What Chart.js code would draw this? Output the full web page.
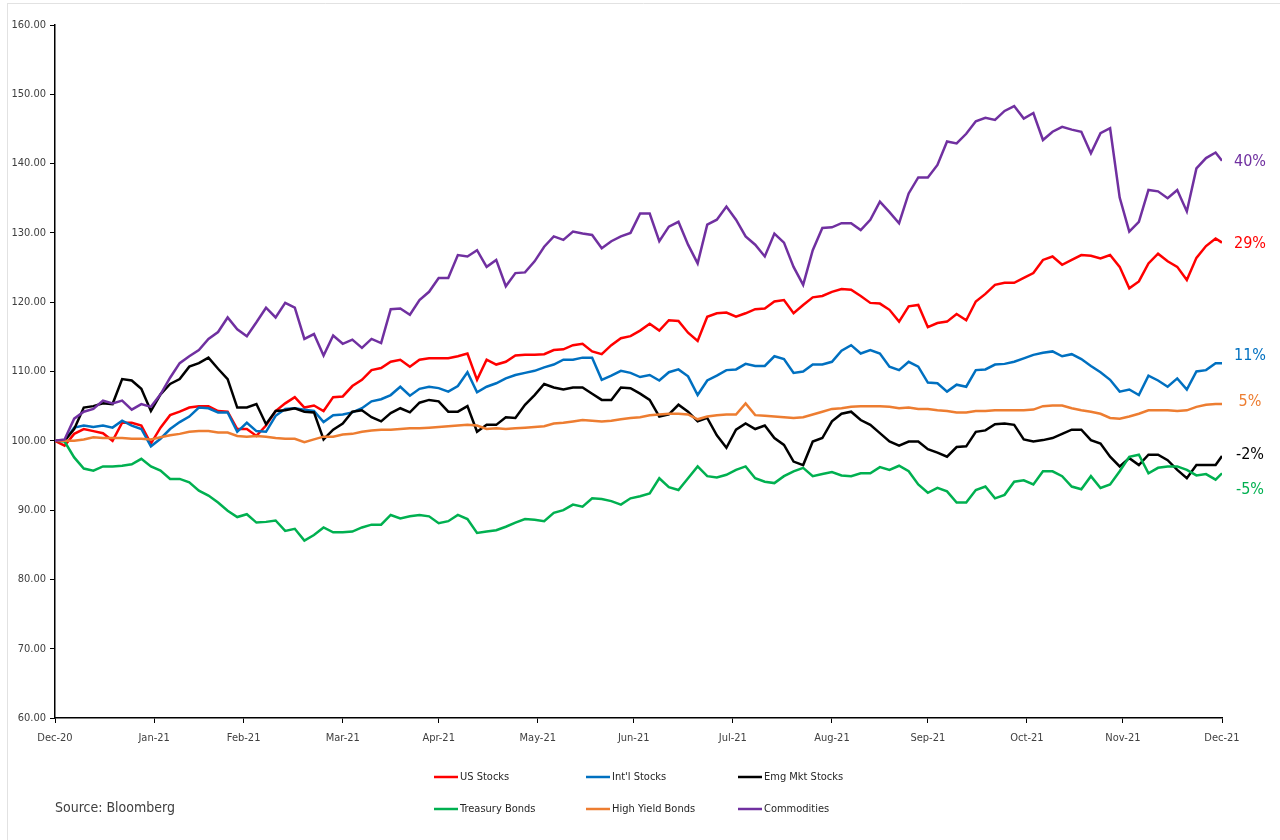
<!DOCTYPE html>
<html>
<head>
<meta charset="utf-8">
<title>Asset Class Performance 2021</title>
<style>
  html, body { margin: 0; padding: 0; background: #ffffff; }
  #wrap { position: relative; width: 1280px; height: 840px; }
  canvas { display: block; }
</style>
<script src="https://cdn.jsdelivr.net/npm/chart.js@4.4.1/dist/chart.umd.min.js"></script>
</head>
<body>
<div id="wrap"><canvas id="chart" width="1280" height="840"></canvas></div>
<script>
// Growth of 100 invested on 31 Dec 2020, sampled every third calendar day.
const days = [
  0, 3, 6, 9, 12, 15, 18, 21, 24, 27,
  30, 33, 36, 39, 42, 45, 48, 51, 54, 57,
  60, 63, 66, 69, 72, 75, 78, 81, 84, 87,
  90, 93, 96, 99, 102, 105, 108, 111, 114, 117,
  120, 123, 126, 129, 132, 135, 138, 141, 144, 147,
  150, 153, 156, 159, 162, 165, 168, 171, 174, 177,
  180, 183, 186, 189, 192, 195, 198, 201, 204, 207,
  210, 213, 216, 219, 222, 225, 228, 231, 234, 237,
  240, 243, 246, 249, 252, 255, 258, 261, 264, 267,
  270, 273, 276, 279, 282, 285, 288, 291, 294, 297,
  300, 303, 306, 309, 312, 315, 318, 321, 324, 327,
  330, 333, 336, 339, 342, 345, 348, 351, 354, 357,
  360, 363, 365
];

const usStocks = [
  100.0, 99.3, 101.0, 101.7, 101.4, 101.1, 100.0, 102.6, 102.6, 102.2,
  99.6, 101.9, 103.7, 104.2, 104.8, 105.0, 105.0, 104.3, 104.2, 101.7,
  101.7, 100.7, 102.2, 104.3, 105.4, 106.3, 104.8, 105.1, 104.3, 106.3,
  106.4, 107.9, 108.8, 110.2, 110.5, 111.4, 111.7, 110.7, 111.7, 111.9,
  111.9, 111.9, 112.2, 112.6, 108.8, 111.7, 111.0, 111.4, 112.3, 112.4,
  112.4, 112.5, 113.1, 113.2, 113.8, 114.0, 112.9, 112.5, 113.8, 114.8,
  115.1, 115.9, 116.9, 115.9, 117.4, 117.3, 115.6, 114.4, 117.9, 118.4,
  118.5, 117.9, 118.4, 119.0, 119.1, 120.1, 120.3, 118.4, 119.6, 120.7,
  120.9, 121.5, 121.9, 121.8, 120.9, 119.9, 119.8, 118.9, 117.2, 119.4,
  119.6, 116.4, 117.0, 117.2, 118.3, 117.4, 120.1, 121.2, 122.5, 122.8,
  122.8, 123.5, 124.2, 126.1, 126.6, 125.4, 126.1, 126.8, 126.7, 126.3,
  126.8, 125.1, 122.0, 123.0, 125.6, 127.0, 125.9, 125.1, 123.2, 126.4,
  128.1, 129.2, 128.6
];

const intlStocks = [
  100.0, 100.0, 101.9, 102.2, 102.0, 102.2, 101.9, 102.9, 102.2, 101.7,
  99.2, 100.3, 101.7, 102.7, 103.5, 104.8, 104.7, 104.1, 104.1, 101.3,
  102.6, 101.4, 101.3, 103.6, 104.6, 104.7, 104.5, 104.3, 102.7, 103.7,
  103.8, 104.1, 104.7, 105.7, 106.0, 106.6, 107.8, 106.5, 107.5, 107.8,
  107.6, 107.1, 107.9, 109.9, 107.0, 107.8, 108.3, 109.0, 109.5, 109.8,
  110.1, 110.6, 111.0, 111.7, 111.7, 112.0, 112.0, 108.8, 109.4, 110.1,
  109.8, 109.2, 109.5, 108.7, 109.9, 110.3, 109.3, 106.6, 108.7, 109.4,
  110.2, 110.3, 111.1, 110.8, 110.8, 112.2, 111.8, 109.8, 110.0, 111.0,
  111.0, 111.4, 113.0, 113.8, 112.6, 113.1, 112.6, 110.7, 110.2, 111.4,
  110.7, 108.4, 108.3, 107.1, 108.1, 107.8, 110.2, 110.3, 111.0, 111.1,
  111.4, 111.9, 112.4, 112.7, 112.9, 112.2, 112.5, 111.8, 110.8, 109.9,
  108.8, 107.1, 107.4, 106.6, 109.4, 108.7, 107.8, 109.0, 107.4, 110.0,
  110.2, 111.2, 111.2
];

const emgMktStocks = [
  100.0, 100.0, 101.7, 104.8, 105.0, 105.4, 105.3, 108.9, 108.7, 107.5,
  104.3, 106.7, 108.2, 108.9, 110.7, 111.2, 112.0, 110.4, 108.9, 104.8,
  104.8, 105.3, 102.4, 104.3, 104.4, 104.7, 104.2, 104.1, 100.2, 101.6,
  102.5, 104.2, 104.4, 103.4, 102.8, 104.0, 104.7, 104.1, 105.5, 105.9,
  105.7, 104.2, 104.2, 105.0, 101.3, 102.3, 102.3, 103.4, 103.3, 105.2,
  106.6, 108.2, 107.7, 107.4, 107.7, 107.7, 106.8, 105.9, 105.9, 107.7,
  107.6, 106.8, 105.9, 103.5, 103.8, 105.2, 104.2, 102.8, 103.3, 100.8,
  99.0, 101.6, 102.5, 101.7, 102.2, 100.4, 99.4, 97.0, 96.5, 99.9,
  100.4, 102.8, 103.9, 104.2, 103.0, 102.3, 101.1, 99.9, 99.3, 99.9,
  99.9, 98.8, 98.3, 97.7, 99.1, 99.2, 101.3, 101.5, 102.4, 102.5,
  102.3, 100.2, 99.9, 100.1, 100.4, 101.0, 101.6, 101.6, 100.1, 99.6,
  97.7, 96.3, 97.5, 96.5, 98.0, 98.0, 97.2, 95.8, 94.6, 96.5,
  96.5, 96.5, 97.8
];

const treasuryBonds = [
  100.0, 99.9, 97.6, 96.0, 95.7, 96.3, 96.3, 96.4, 96.6, 97.4,
  96.3, 95.7, 94.5, 94.5, 94.0, 92.8, 92.1, 91.1, 89.9, 89.0,
  89.4, 88.2, 88.3, 88.5, 87.0, 87.3, 85.6, 86.4, 87.5, 86.8,
  86.8, 86.9, 87.5, 87.9, 87.9, 89.3, 88.8, 89.1, 89.3, 89.1,
  88.1, 88.4, 89.3, 88.7, 86.7, 86.9, 87.1, 87.6, 88.2, 88.7,
  88.6, 88.4, 89.6, 90.0, 90.8, 90.5, 91.7, 91.6, 91.3, 90.8,
  91.7, 92.0, 92.4, 94.6, 93.3, 92.9, 94.6, 96.3, 94.9, 94.7,
  95.1, 95.8, 96.3, 94.6, 94.1, 93.9, 94.9, 95.6, 96.1, 94.9,
  95.2, 95.5, 95.0, 94.9, 95.3, 95.3, 96.2, 95.8, 96.4, 95.6,
  93.7, 92.5, 93.2, 92.7, 91.1, 91.1, 92.9, 93.4, 91.7, 92.2,
  94.1, 94.3, 93.7, 95.6, 95.6, 94.9, 93.4, 93.0, 94.9, 93.2,
  93.7, 95.6, 97.7, 98.0, 95.3, 96.1, 96.3, 96.3, 95.8, 95.0,
  95.2, 94.4, 95.3
];

const highYieldBonds = [
  100.0, 100.0, 100.0, 100.2, 100.5, 100.4, 100.4, 100.4, 100.3, 100.3,
  100.2, 100.5, 100.8, 101.0, 101.3, 101.4, 101.4, 101.2, 101.2, 100.7,
  100.6, 100.7, 100.6, 100.4, 100.3, 100.3, 99.8, 100.2, 100.6, 100.6,
  100.9, 101.0, 101.3, 101.5, 101.6, 101.6, 101.7, 101.8, 101.8, 101.9,
  102.0, 102.1, 102.2, 102.3, 102.2, 101.7, 101.8, 101.7, 101.8, 101.9,
  102.0, 102.1, 102.5, 102.6, 102.8, 103.0, 102.9, 102.8, 102.9, 103.1,
  103.3, 103.4, 103.7, 103.8, 103.9, 103.9, 103.8, 103.1, 103.5, 103.7,
  103.8, 103.8, 105.4, 103.7, 103.6, 103.5, 103.4, 103.3, 103.4, 103.8,
  104.2, 104.6, 104.7, 104.9, 105.0, 105.0, 105.0, 104.9, 104.7, 104.8,
  104.6, 104.6, 104.4, 104.3, 104.1, 104.1, 104.3, 104.3, 104.4, 104.4,
  104.4, 104.4, 104.5, 105.0, 105.1, 105.1, 104.7, 104.4, 104.2, 103.9,
  103.3, 103.2, 103.5, 103.9, 104.4, 104.4, 104.4, 104.3, 104.4, 104.9,
  105.2, 105.3, 105.3
];

const commodities = [
  100.0, 100.2, 103.2, 104.2, 104.6, 105.8, 105.4, 105.8, 104.5, 105.3,
  104.9, 106.7, 109.1, 111.2, 112.2, 113.1, 114.7, 115.7, 117.8, 116.1,
  115.1, 117.1, 119.2, 117.8, 119.9, 119.2, 114.7, 115.4, 112.3, 115.2,
  114.0, 114.6, 113.4, 114.7, 114.1, 119.0, 119.1, 118.2, 120.3, 121.5,
  123.5, 123.5, 126.8, 126.6, 127.5, 125.1, 126.1, 122.3, 124.2, 124.3,
  125.9, 128.0, 129.5, 129.0, 130.2, 129.9, 129.7, 127.8, 128.8, 129.5,
  130.0, 132.8, 132.8, 128.8, 130.9, 131.6, 128.3, 125.6, 131.2, 131.9,
  133.8, 131.9, 129.5, 128.3, 126.6, 129.9, 128.6, 125.1, 122.5, 127.5,
  130.7, 130.8, 131.4, 131.4, 130.4, 131.9, 134.5, 133.0, 131.4, 135.7,
  138.0, 138.0, 139.8, 143.2, 142.9, 144.3, 146.1, 146.6, 146.3, 147.6,
  148.3, 146.5, 147.3, 143.4, 144.6, 145.3, 144.9, 144.6, 141.5, 144.4,
  145.1, 135.1, 130.2, 131.6, 136.2, 136.0, 135.0, 136.2, 133.1, 139.3,
  140.8, 141.6, 140.4
];

// Month-end tick positions (days after 31 Dec 2020) and their labels
const monthEndDays = [0, 31, 59, 90, 120, 151, 181, 212, 243, 273, 304, 334, 365];
const monthLabels = ['Dec-20', 'Jan-21', 'Feb-21', 'Mar-21', 'Apr-21', 'May-21', 'Jun-21',
                     'Jul-21', 'Aug-21', 'Sep-21', 'Oct-21', 'Nov-21', 'Dec-21'];

const seriesNames = ['US Stocks', "Int'l Stocks", 'Emg Mkt Stocks',
                     'Treasury Bonds', 'High Yield Bonds', 'Commodities'];
const seriesValues = [usStocks, intlStocks, emgMktStocks, treasuryBonds, highYieldBonds, commodities];
const seriesColors = ['#ff0000', '#0070c0', '#000000', '#00b050', '#ed7d31', '#7030a0'];
// vertical nudge (px) of the end-of-year return labels so they do not collide
const endLabelNudge = [1, -7, -1, 16, -2, 1];

const FONT = '"Liberation Sans Narrow", "DejaVu Sans Condensed", "Liberation Sans", Arial, sans-serif';
const TEXT = '#404040';

const datasets = seriesNames.map((name, i) => ({
  label: name,
  data: seriesValues[i].map((v, j) => ({ x: days[j], y: v })),
  borderColor: seriesColors[i],
  backgroundColor: seriesColors[i],
  borderWidth: 2.5,
  pointRadius: 0,
  tension: 0,
  fill: false,
  order: seriesNames.length - i
}));

// Legend grid, source note and year-end return labels
const annotations = {
  id: 'annotations',
  afterDraw(chart) {
    const ctx = chart.ctx;
    ctx.save();

    // faint page frame
    ctx.strokeStyle = '#e2e2e2';
    ctx.lineWidth = 1;
    ctx.beginPath();
    ctx.moveTo(7.5, 3); ctx.lineTo(7.5, 840);
    ctx.moveTo(7, 3.5); ctx.lineTo(1280, 3.5);
    ctx.stroke();

    // legend: two rows of three
    const colX = [434, 586, 738];
    const rowY = [777, 809];
    ctx.font = '11px ' + FONT;
    ctx.textBaseline = 'middle';
    ctx.textAlign = 'left';
    chart.data.datasets.forEach((ds, i) => {
      const x = colX[i % 3];
      const y = rowY[Math.floor(i / 3)];
      ctx.strokeStyle = ds.borderColor;
      ctx.lineWidth = 2.5;
      ctx.beginPath();
      ctx.moveTo(x, y);
      ctx.lineTo(x + 24, y);
      ctx.stroke();
      ctx.fillStyle = '#262626';
      ctx.fillText(ds.label, x + 26, y);
    });

    // source note
    ctx.font = '14px ' + FONT;
    ctx.fillStyle = TEXT;
    ctx.fillText('Source: Bloomberg', 55, 808);

    // year-end return labels
    const yScale = chart.scales.y;
    ctx.font = '16px ' + FONT;
    ctx.textAlign = 'center';
    chart.data.datasets.forEach((ds, i) => {
      const last = ds.data[ds.data.length - 1].y;
      const pct = Math.round(last - 100);
      ctx.fillStyle = ds.borderColor;
      ctx.fillText(pct + '%', 1250, yScale.getPixelForValue(last) + endLabelNudge[i]);
    });

    ctx.restore();
  }
};

new Chart(document.getElementById('chart'), {
  type: 'line',
  data: { datasets },
  options: {
    responsive: false,
    animation: false,
    devicePixelRatio: 1,
    layout: { padding: { left: 0, right: 58, top: 25, bottom: 0 } },
    plugins: {
      legend: { display: false },
      tooltip: { enabled: false }
    },
    scales: {
      x: {
        type: 'linear',
        min: 0,
        max: 365,
        afterBuildTicks(scale) {
          scale.ticks = monthEndDays.map(v => ({ value: v }));
        },
        afterFit(scale) { scale.height = 122; },
        ticks: {
          autoSkip: false,
          maxRotation: 0,
          padding: 9,
          color: TEXT,
          font: { family: FONT, size: 11 },
          callback: (value, index) => monthLabels[index]
        },
        grid: { drawOnChartArea: false, drawTicks: true, tickLength: 5, color: '#000000', lineWidth: 1 },
        border: { color: '#000000', width: 1.5 }
      },
      y: {
        min: 60,
        max: 160,
        afterFit(scale) { scale.width = 55; },
        ticks: {
          stepSize: 10,
          padding: 4,
          color: TEXT,
          font: { family: FONT, size: 11 },
          callback: v => Number(v).toFixed(2)
        },
        grid: { drawOnChartArea: false, drawTicks: true, tickLength: 5, color: '#000000', lineWidth: 1 },
        border: { color: '#000000', width: 1.5 }
      }
    }
  },
  plugins: [annotations]
});
</script>
</body>
</html>
